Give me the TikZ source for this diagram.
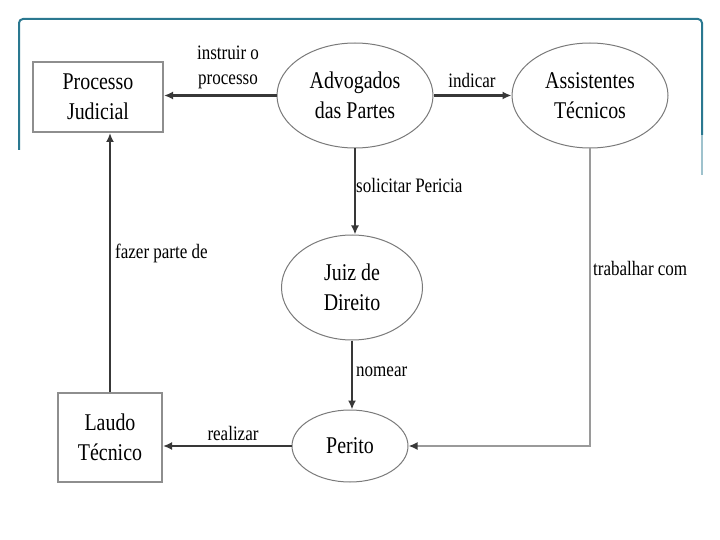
\documentclass[tikz,border=0pt]{standalone}
\usepackage{fontspec}
\setmainfont{Liberation Serif}[FakeStretch=0.83]
\usetikzlibrary{arrows.meta,shapes.geometric}
\definecolor{frame}{HTML}{2A7890}
\definecolor{lin}{HTML}{383838}
\definecolor{rectb}{HTML}{8E8E8E}
\definecolor{ellb}{HTML}{7A7A7A}
\definecolor{lgray}{HTML}{9A9A9A}
\tikzset{
  box/.style={draw=rectb,line width=2pt,align=center,inner sep=0pt,font=\fontsize{24}{30}\selectfont},
  ell/.style={ellipse,draw=ellb,line width=1pt,inner sep=0pt,align=center,font=\fontsize{24}{30}\selectfont},
  arr/.style={draw=lin,line width=2.2pt,-{Latex[length=9pt,width=8pt]}},
  lab/.style={inner sep=0pt,font=\fontsize{20.5}{25}\selectfont,align=center}
}
\begin{document}
\begin{tikzpicture}[x=1pt,y=-1pt]
\useasboundingbox (0,0) rectangle (720,540);
\fill[white] (0,0) rectangle (720,540);
% frame
\draw[frame,line width=2pt,rounded corners=4pt] (19,150) -- (19,19) -- (702,19) -- (702,135);
\draw[frame!45,line width=2pt] (702,135) -- (702,175);
% nodes
\node[box, minimum width=130pt, minimum height=70pt] (proc) at (98,97) {Processo\\Judicial};
\node[box, minimum width=104pt, minimum height=89pt] (laudo) at (110,437.5) {Laudo\\Técnico};
\node[ell, minimum width=156pt, minimum height=105pt] (adv) at (355,95.5) {Advogados\\das Partes};
\node[ell, minimum width=156pt, minimum height=105pt] (asst) at (590,95.5) {Assistentes\\Técnicos};
\node[ell, minimum width=141pt, minimum height=105pt] (juiz) at (352,287.5) {Juiz de\\Direito};
\node[ell, minimum width=116pt, minimum height=72pt] (perito) at (350,446) {Perito};
% connectors
\draw[arr] (adv.west) -- (adv.west -| proc.east);
\draw[arr] (adv.east) -- (asst.west);
\draw[arr] (adv.south) -- (adv.south |- juiz.north);
\draw[arr] (juiz.south) -- (juiz.south |- perito.north);
\draw[arr] (perito.west) -- (perito.west -| laudo.east);
\draw[arr] (laudo.north) -- (laudo.north |- proc.south);
\draw[draw=lgray,line width=2.4pt,-{Latex[length=9pt,width=8pt,color=lin]}] (asst.south) |- (perito.east);
% labels
\node[lab] (l1) at (228,67) {instruir o\\processo};
\node[lab] (l2) at (472,80) {indicar};
\node[lab,anchor=west] (l3) at (356,185) {solicitar Pericia};
\node[lab,anchor=west] (l4) at (115,253) {fazer parte de};
\node[lab,anchor=west] (l5) at (356,372) {nomear};
\node[lab] (l6) at (233,433) {realizar};
\node[lab,anchor=west] (l7) at (593,268) {trabalhar com};
\end{tikzpicture}
\end{document}
